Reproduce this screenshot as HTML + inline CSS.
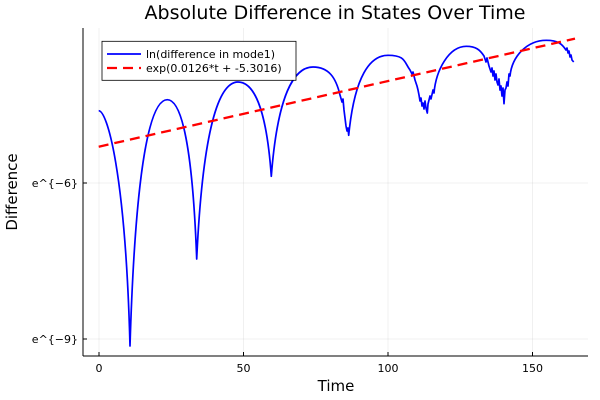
<!DOCTYPE html>
<html><head><meta charset="utf-8"><style>body{margin:0;background:#fff}svg{display:block}</style></head><body>
<svg width="600" height="400" xmlns="http://www.w3.org/2000/svg" font-family="DejaVu Sans, Liberation Sans, sans-serif">
<rect width="600" height="400" fill="#fff"/>
<g stroke="#000" stroke-opacity="0.1" stroke-width="0.6">
<line x1="99" y1="28" x2="99" y2="356"/><line x1="243.5" y1="28" x2="243.5" y2="356"/><line x1="388" y1="28" x2="388" y2="356"/><line x1="532.5" y1="28" x2="532.5" y2="356"/>
<line x1="83" y1="183" x2="588" y2="183"/><line x1="83" y1="339" x2="588" y2="339"/>
</g>
<g stroke="#000" stroke-width="1">
<line x1="83" y1="356" x2="588" y2="356"/><line x1="83" y1="28" x2="83" y2="356"/>
<line x1="99" y1="356" x2="99" y2="352"/><line x1="243.5" y1="356" x2="243.5" y2="352"/><line x1="388" y1="356" x2="388" y2="352"/><line x1="532.5" y1="356" x2="532.5" y2="352"/>
<line x1="83" y1="183" x2="87" y2="183"/><line x1="83" y1="339" x2="87" y2="339"/>
</g>
<g font-size="11" fill="#000" text-anchor="middle">
<text x="99" y="372">0</text><text x="243.5" y="372">50</text><text x="388" y="372">100</text><text x="532.5" y="372">150</text>
</g>
<g font-size="11" fill="#000" text-anchor="end">
<text x="78" y="187">e^{−6}</text><text x="78" y="343">e^{−9}</text>
</g>
<text x="335" y="19" font-size="19" text-anchor="middle">Absolute Difference in States Over Time</text>
<text x="336" y="391" font-size="15" text-anchor="middle">Time</text>
<text transform="translate(17,192) rotate(-90)" font-size="15" text-anchor="middle">Difference</text>
<path fill="none" stroke="#0000ff" stroke-width="1.7" stroke-linejoin="round" d="M98.7,110.7 C107,111 125.3,170 130,346 C135.6,161.5 150.5,99.7 167.3,99.7 C180.5,99.7 192.3,139.8 196.7,259 C202.9,126 219.4,82 238,82 C253,82 266.3,105.8 271.3,176.3 C277.6,94.5 294.2,67 313,67 C329,67 336,78 340,95 L342,102 343,99 344,110 345,118 346,126 347,131 348,128 348.7,135.3 C354.6,75.3 370.3,55.3 388,55.3 C405.7,55.3 404,62 410,70 L412,74 413,72 415,80 417,86 418,90 419,95 420,101 421,98 422,106 423,103 424,109 425,101 426,108 427.3,113 L428,104 430,96 431,99 433,90 434,93 C436,70 448.8,46.3 466.3,46.3 C476,46.3 480,50 484,56 L486,62 487,58 489,66 491,72 492,68 493,76 494,71 495,80 496,74 497,82 498,85 499,79 500,90 501,86 502,96 503,88 504,103.7 L505,90 506,88 507,82 508,86 509,74 510,76 C512,56 527.3,40.3 546.3,40.3 C558,40.3 562,44 566,50 L567,48 568,53 569,51 570,57 571,55 572,60 573.7,62"/>
<line x1="98.7" y1="146.7" x2="575" y2="38.6" stroke="#ff0000" stroke-width="2.3" stroke-dasharray="10,6"/>
<rect x="102" y="41.3" width="194" height="39" fill="#fff" stroke="#000" stroke-width="0.8"/>
<line x1="107" y1="54" x2="141" y2="54" stroke="#0000ff" stroke-width="1.7"/>
<line x1="107" y1="68" x2="141" y2="68" stroke="#ff0000" stroke-width="2.3" stroke-dasharray="10,6"/>
<g font-size="11" fill="#000"><text x="146" y="58">ln(difference in mode1)</text><text x="146" y="72">exp(0.0126*t + -5.3016)</text></g>
</svg>
</body></html>
